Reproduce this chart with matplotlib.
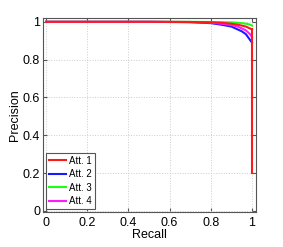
import matplotlib
matplotlib.use("Agg")
import matplotlib.pyplot as plt

plt.rcParams['font.family'] = ['Liberation Sans', 'DejaVu Sans']

# recall / precision values
recall = [0.0, 0.5, 0.7, 0.8, 0.85, 0.9, 0.93, 0.95, 0.97, 0.98, 0.99, 1.0]
prec_att1 = [1.0, 1.0, 0.999, 0.997, 0.995, 0.99, 0.985, 0.98, 0.975, 0.97, 0.965, 0.96]
prec_att2 = [1.0, 1.0, 0.998, 0.993, 0.985, 0.975, 0.96, 0.95, 0.935, 0.92, 0.905, 0.89]
prec_att3 = [1.0, 1.0, 1.0, 0.999, 0.998, 0.997, 0.995, 0.993, 0.99, 0.988, 0.985, 0.98]
prec_att4 = [1.0, 1.0, 0.999, 0.996, 0.99, 0.983, 0.975, 0.965, 0.955, 0.945, 0.935, 0.92]
# tail of att 1 at recall = 1
tail_recall = [1.0, 1.0]
tail_prec = [0.96, 0.2]

labels = ['Att. 1', 'Att. 2', 'Att. 3', 'Att. 4']
colors = ['#ff1a1a', '#1a1aff', '#1aff1a', '#ff1aff']
ticks = [0, 0.2, 0.4, 0.6, 0.8, 1]
tick_labels = ['0', '0.2', '0.4', '0.6', '0.8', '1']

fig = plt.figure(figsize=(2.83, 2.47), dpi=100)
ax = fig.add_axes([0.152, 0.142, 0.753, 0.785])

series = [prec_att1, prec_att2, prec_att3, prec_att4]
zs = [5, 2, 3, 4]
for p, lab, c, z in zip(series, labels, colors, zs):
    ax.plot(recall, p, color=c, lw=1.5, label=lab, zorder=z)
ax.plot(tail_recall, tail_prec, color=colors[0], lw=1.5, zorder=5)

ax.set_xlim(-0.015, 1.02)
ax.set_ylim(-0.005, 1.02)
ax.set_xticks(ticks)
ax.set_xticklabels(tick_labels)
ax.set_yticks(ticks)
ax.set_yticklabels(tick_labels)
ax.tick_params(direction='in', top=True, right=True, length=3,
               labelsize=9, color='#555555', pad=2)
ax.tick_params(axis='x', pad=3.5)
ax.grid(True, linestyle=':', color='#cccccc', lw=0.7)
for s in ax.spines.values():
    s.set_color('#555555')
    s.set_linewidth(0.8)

ax.set_xlabel('Recall', fontsize=9, labelpad=0)
ax.set_ylabel('Precision', fontsize=9, labelpad=1)

leg = ax.legend(loc='lower left', fontsize=7, handlelength=1.8,
                handletextpad=0.3, labelspacing=0.35, borderpad=0.3,
                fancybox=False, edgecolor='#555555', framealpha=1,
                borderaxespad=0.3)
leg.get_frame().set_linewidth(0.8)

fig.savefig('out.png', dpi=100)
